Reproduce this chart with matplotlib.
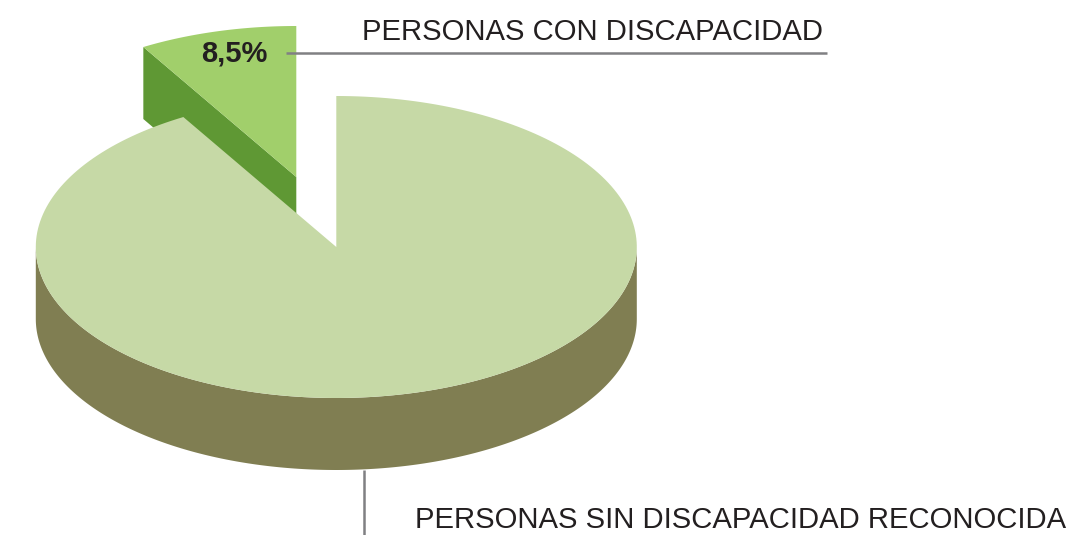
import numpy as np
import matplotlib
matplotlib.use("Agg")
import matplotlib.pyplot as plt
from matplotlib.patches import Polygon

labels = ["PERSONAS CON DISCAPACIDAD", "PERSONAS SIN DISCAPACIDAD RECONOCIDA"]
values = [8.5, 91.5]
value_label = "8,5%"

W, H = 1072, 535
RX, RY, DEPTH = 300.5, 151, 72
CENTER_MAIN = (336.3, 247)
CENTER_SLICE = (296.3, 177)
COL_SLICE_TOP, COL_SLICE_SIDE = "#a1cf6b", "#5f9834"
COL_MAIN_TOP, COL_MAIN_SIDE = "#c6d9a6", "#807e52"

fig = plt.figure(figsize=(W / 100, H / 100), dpi=100)
ax = fig.add_axes([0, 0, 1, 1])
ax.set_xlim(0, W)
ax.set_ylim(H, 0)
ax.axis("off")


def rim(center, a0, a1, dy=0, n=240):
    """Points on the ellipse; angle in percent of the pie, clockwise from 12 o'clock."""
    t = np.radians(np.linspace(a0, a1, n) * 3.6)
    return np.column_stack([center[0] + RX * np.sin(t), center[1] - RY * np.cos(t) + dy])


# detached slice: the angle comes from the data, counter-clockwise of 12 o'clock
slice_start = -values[0]
edge = rim(CENTER_SLICE, slice_start, slice_start, n=1)[0]
face = [CENTER_SLICE, edge, edge + [0, DEPTH], (CENTER_SLICE[0], CENTER_SLICE[1] + DEPTH)]
ax.add_patch(Polygon(face, closed=True, fc=COL_SLICE_SIDE, ec="none", zorder=1))
ax.add_patch(Polygon(np.vstack([[CENTER_SLICE], rim(CENTER_SLICE, slice_start, 0)]), closed=True,
                     fc=COL_SLICE_TOP, ec="none", zorder=1.5))

# main pie: wall across the front only, then the top
r_top = rim(CENTER_MAIN, 25, 75)
r_bot = rim(CENTER_MAIN, 25, 75, DEPTH)
ax.add_patch(Polygon(np.vstack([r_top, r_bot[::-1]]), closed=True, fc=COL_MAIN_SIDE, ec="none", zorder=2))
ax.add_patch(Polygon(np.vstack([[CENTER_MAIN], rim(CENTER_MAIN, 0, values[1])]), closed=True,
                     fc=COL_MAIN_TOP, ec="none", zorder=3))

font = "Liberation Sans"
ax.plot([286, 827], [53, 53], color="#808083", lw=1.8, solid_capstyle="butt", zorder=4)
ax.plot([364, 364], [470, 535], color="#808083", lw=1.8, solid_capstyle="butt", zorder=1)
ax.text(234.5, 53, value_label, fontsize=21, fontweight="bold", family=font, color="#231f20",
        ha="center", va="center", zorder=5)
ax.text(362, 32, labels[0], fontsize=21.07, family=font, color="#231f20", ha="left", va="center", zorder=5)
ax.text(415, 520, labels[1], fontsize=21.07, family=font, color="#231f20", ha="left", va="center", zorder=5)

fig.savefig("out.png", dpi=100, facecolor="white")
